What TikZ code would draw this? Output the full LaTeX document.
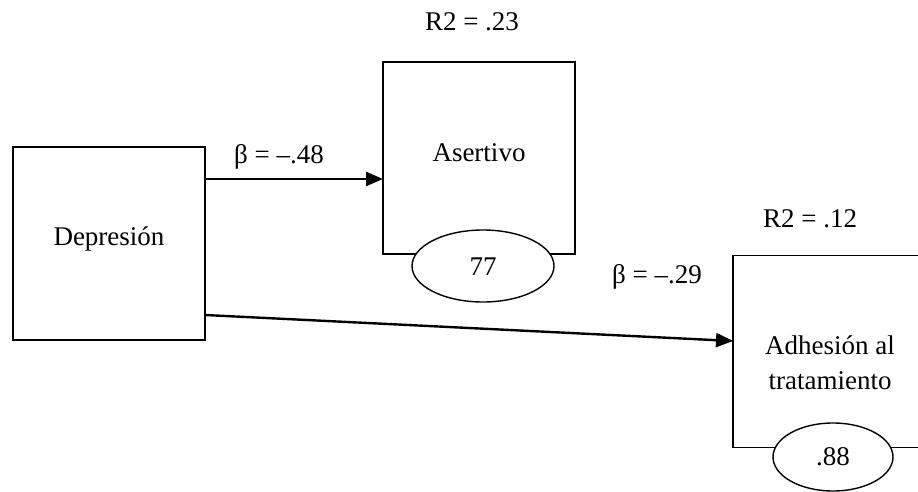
\documentclass[tikz,border=0pt]{standalone}
\usepackage{fontspec}
\setmainfont{Liberation Serif}
\usetikzlibrary{arrows.meta,shapes.geometric}
\begin{document}
\begin{tikzpicture}[x=1pt,y=-1pt,
  every node/.style={font=\fontsize{27}{35}\selectfont, inner sep=0pt},
  varbox/.style={draw, line width=1.6pt, minimum width=192pt, minimum height=192pt},
  errell/.style={draw, fill=white, line width=1.4pt, ellipse},
  path/.style={line width=2.4pt, -{Triangle[length=17pt,width=14pt]}}
]
\useasboundingbox (0,0) rectangle (918,492);
\clip (0,0) rectangle (918,492);

% variable boxes
\node[varbox, minimum height=193pt] (dep) at (109,243.5) {};
\node (deplab) at (109,239) {Depresión};

\node[varbox] (ase) at (479,158) {};
\node (aselab) at (479,153) {Asertivo};

\node[varbox, minimum width=260pt] (adh) at (863,351.5) {};
\node[align=center] (adhlab) at (830,363) {Adhesión al\\tratamiento};

% error terms
\node[errell, minimum width=142pt, minimum height=72pt] (e1) at (483,266) {};
\node (e1lab) at (483,267) {77};
\node[errell, minimum width=120pt, minimum height=68pt] (e2) at (833,457) {};
\node (e2lab) at (833,457) {.88};

% explained variance
\node (r1) at (472,22) {R2 = .23};
\node (r2) at (810,219) {R2 = .12};

% paths
\coordinate (s1) at (205,179);
\coordinate (t1) at (383,179);
\coordinate (s2) at (205,315);
\coordinate (t2) at (733,341);
\draw[path] (s1) -- (t1);
\draw[path] (s2) -- (t2);
\node (b1) at (279,157) {β = –.48};
\node (b2) at (657,277) {β = –.29};
\end{tikzpicture}
\end{document}
